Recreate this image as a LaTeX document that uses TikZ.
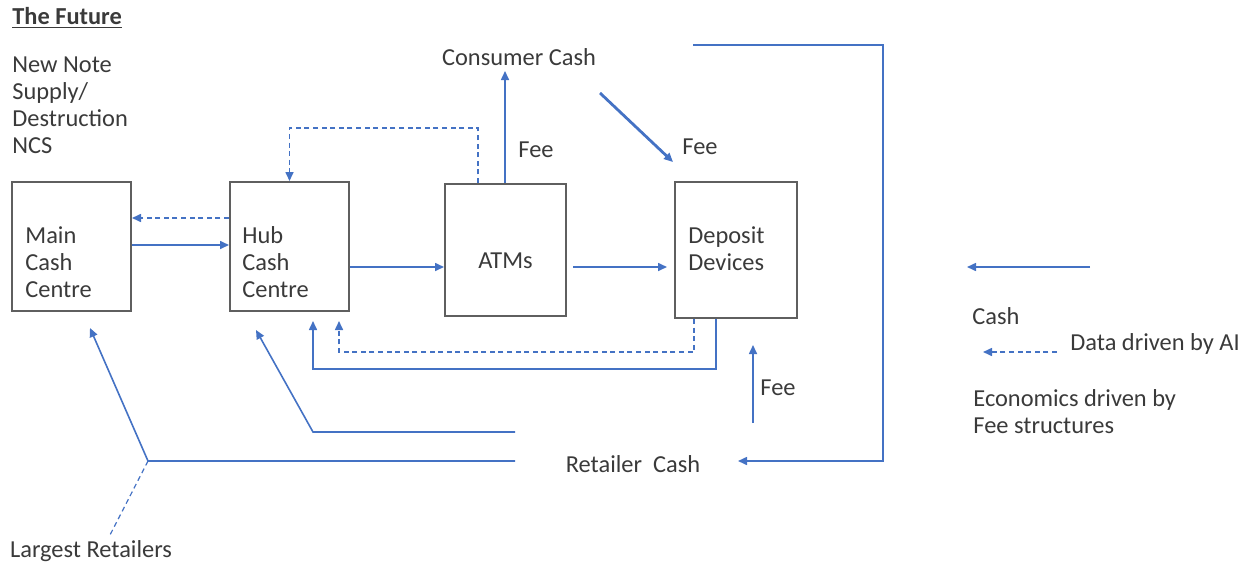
\documentclass[tikz,border=0pt]{standalone}
\usepackage{fontspec}
\setmainfont{Carlito}
\usetikzlibrary{arrows.meta,fit}
\definecolor{flow}{HTML}{4472C4}
\definecolor{ink}{HTML}{3A3A3A}
\definecolor{frame}{HTML}{5F5F5F}
\begin{document}
\begin{tikzpicture}[x=0.5pt,y=-0.5pt,
  font=\fontsize{12.2}{13.5}\selectfont, text=ink,
  box/.style={draw=frame, line width=1pt, inner sep=0pt},
  txt/.style={inner sep=0pt, align=left, anchor=west},
  lbl/.style={inner sep=0pt},
  cash/.style={draw=flow, line width=0.8pt, -{Triangle[length=4.5pt,width=4pt]}},
  data/.style={cash, dash pattern=on 2.5pt off 1.8pt}]
\useasboundingbox (0,0) rectangle (1245,562);

% headings
\node[txt] (title) at (12,18) {\underline{\textbf{The Future}}};
\node[txt] (ncs) at (12,105.5) {New Note\\Supply/\\Destruction\\NCS};

% boxes
\node[box, fit={(12,182)(131,311)}] (main) {};
\node[box, fit={(230,182)(349,311)}] (hub) {};
\node[box, fit={(445,184)(566,316)}] (atm) {};
\node[box, fit={(675,182)(797,318)}] (dep) {};
\node[txt] (maint) at (25,262.5) {Main\\Cash\\Centre};
\node[txt] (hubt) at (242,262.5) {Hub\\Cash\\Centre};
\node[lbl] (atmt) at (505.5,261) {ATMs};
\node[txt] (dept) at (688,249) {Deposit\\Devices};

% free labels
\node[lbl] (cc) at (519,57) {Consumer Cash};
\node[lbl] (fee1) at (536,150) {Fee};
\node[lbl] (fee2) at (700,147) {Fee};
\node[lbl] (fee3) at (778,388) {Fee};
\node[lbl] (rc) at (633,464) {Retailer\ \ Cash};
\node[lbl] (lr) at (91,551) {Largest Retailers};

% legend
\node[txt] (lcash) at (972,316) {Cash};
\node[txt] (ldata) at (1070,344) {Data driven by AI};
\node[txt] (lecon) at (973,412) {Economics driven by\\Fee structures};

% loose ends
\coordinate (cs) at (600,93);
\coordinate (ce) at (673,162);
\coordinate (r1) at (515,432);
\coordinate (r2) at (515,461);
\coordinate (k1) at (313,432);
\coordinate (k2) at (148,461);
\coordinate (t1) at (256,330);
\coordinate (t2) at (90,328);
\coordinate (lrend) at (110,535);
\coordinate (fs) at (753,423);
\coordinate (fe) at (753,345);
\coordinate (loop) at (693,45);
\coordinate (loopc) at (883,461);
\coordinate (rcin) at (738,461);
\coordinate (lg1s) at (1090,267);
\coordinate (lg1e) at (967,267);
\coordinate (lg2s) at (1057,352);
\coordinate (lg2e) at (983,352);

% flows between centres
\draw[cash] (main.east |- 0,245) -- (hub.west |- 0,245);
\draw[data] (hub.west |- 0,218) -- (main.east |- 0,218);
\draw[cash] (hub.east |- 0,267) -- (atm.west |- 0,267);
\draw[cash, shorten >=3.5pt] (atm.east |- 0,267) ++(6,0) -- (dep.west |- 0,267);

% consumer cash
\draw[cash] (atm.north -| 505,0) -- ++(0,-112);
\draw[data] (atm.north -| 478,0) |- (hub.north |- 0,128) -- (hub.north);
\draw[cash, line width=1.4pt] (cs) -- (ce);

% returns from deposit devices
\draw[data, shorten >=4.5pt] (dep.south -| 694,0) |- (339,352) -- (hub.south -| 339,0);
\draw[cash, shorten >=4.5pt] (dep.south -| 716,0) |- (313,369) -- (hub.south -| 313,0);

% retailer cash
\draw[cash] (r1) -- (k1) -- (t1);
\draw[cash] (r2) -- (k2) -- (t2);
\draw[draw=flow, line width=0.6pt, dash pattern=on 2.5pt off 1.8pt] (k2) -- (lrend);
\draw[cash] (fs) -- (fe);
\draw[cash] (loop) -| (loopc) -- (rcin);

% legend arrows
\draw[cash] (lg1s) -- (lg1e);
\draw[data] (lg2s) -- (lg2e);
\end{tikzpicture}
\end{document}
